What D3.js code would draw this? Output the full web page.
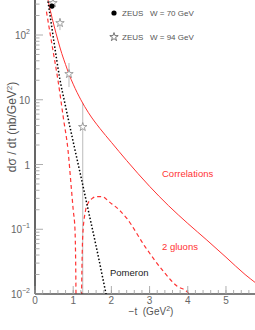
<html>
<head>
  <script src="https://d3js.org/d3.v7.min.js"></script>
  <style>
    body { margin: 0; background: #fff; }
    text { font-family: "Liberation Sans", Arial, sans-serif; white-space: pre; }
  </style>
</head>
<body>
  <div id="vis"></div>
  <script type="text/javascript">
    // curve samples, -t in GeV^2, dsigma/dt in nb/GeV^2
    var corrT   = [0.3, 0.4, 0.5, 0.6, 0.7, 0.8, 0.9, 1.0, 1.2, 1.4, 1.7, 2.0, 2.4, 3.0, 3.5, 4.0, 4.5, 5.0, 5.5, 5.8];
    var corrV   = [457, 240, 138, 83, 52, 35, 24, 17.4, 10, 6.3, 3.6, 2.2, 1.15, 0.46, 0.23, 0.123, 0.068, 0.037, 0.020, 0.0145];

    var pomT    = [0.3, 0.4, 0.5, 0.65, 0.8, 1.0, 1.2, 1.4, 1.6, 1.86, 1.9];
    var pomV    = [479, 190, 76, 21, 7.9, 2.24, 0.66, 0.19, 0.055, 0.01, 0.0077];

    var glu1T   = [0.3, 0.45, 0.6, 0.75, 0.864, 0.95, 1.0, 1.047, 1.07, 1.085];
    var glu1V   = [229, 68, 20.2, 4.9, 1.67, 0.44, 0.2, 0.098, 0.016, 0.001];
    var glu2T   = [1.2, 1.22, 1.25, 1.32, 1.40, 1.5, 1.62, 1.75, 1.96, 2.2, 2.4, 2.88, 3.4, 3.7, 4.0, 4.1];
    var glu2V   = [0.001, 0.011, 0.08, 0.19, 0.26, 0.3, 0.32, 0.32, 0.26, 0.2, 0.148, 0.054, 0.021, 0.0135, 0.0105, 0.0085];

    // ZEUS data
    var zeus70T  = [0.445];
    var zeus70V  = [280];
    var zeus70Lo = [255];
    var zeus70Hi = [305];
    var zeus94T  = [0.47, 0.654, 0.89, 1.25];
    var zeus94V  = [312, 153, 25, 3.8];
    var zeus94Lo = [290, 119, 15.7, 0.001];
    var zeus94Hi = [335, 183, 37, 8.9];

    var xTicks = [0, 1, 2, 3, 4, 5];
    var yTicks = [0.01, 0.1, 1, 10, 100];
    var yTickLabels = [['10', '\u22122'], ['10', '\u22121'], ['1', ''], ['10', ''], ['10', '2']];

    var W = 255, H = 330;
    var plotLeft = 35, plotBottom = 294, plotTop = 35;

    var x = d3.scaleLinear().domain([0, 5.76]).range([plotLeft, W]);
    var y = d3.scaleLog().domain([0.01, 100]).range([plotBottom, plotTop]);

    var svg = d3.select('#vis').append('svg')
                .attr('width', W).attr('height', H);

    svg.append('clipPath').attr('id', 'plot')
       .append('rect').attr('x', plotLeft).attr('y', -50).attr('width', W - plotLeft).attr('height', plotBottom + 50);

    var red = '#f33';
    var line = d3.line().x(function(d) { return x(d[0]); }).y(function(d) { return y(d[1]); }).curve(d3.curveMonotoneX);
    function pairs(t, v) { return t.map(function(tt, i) { return [tt, v[i]]; }); }

    var g = svg.append('g').attr('clip-path', 'url(#plot)');

    // error bars
    function errBars(t, lo, hi) {
      g.selectAll(null).data(t).enter().append('line')
        .attr('x1', function(d) { return x(d); }).attr('x2', function(d) { return x(d); })
        .attr('y1', function(d, i) { return y(lo[i]); }).attr('y2', function(d, i) { return y(hi[i]); })
        .style('stroke', '#bbb').style('stroke-width', 1);
    }
    errBars(zeus70T, zeus70Lo, zeus70Hi);
    errBars(zeus94T, zeus94Lo, zeus94Hi);

    g.append('path').attr('d', line(pairs(corrT, corrV)))
      .style('fill', 'none').style('stroke', red).style('stroke-width', 1);
    g.append('path').attr('d', line(pairs(glu1T, glu1V)))
      .style('fill', 'none').style('stroke', red).style('stroke-width', 1.2).style('stroke-dasharray', '4,3');
    g.append('path').attr('d', line(pairs(glu2T, glu2V)))
      .style('fill', 'none').style('stroke', red).style('stroke-width', 1.2).style('stroke-dasharray', '4,3');
    g.append('path').attr('d', line(pairs(pomT, pomV)))
      .style('fill', 'none').style('stroke', '#000').style('stroke-width', 1.5).style('stroke-dasharray', '1.5,2');

    var star = d3.symbol().type(d3.symbolStar).size(22);
    g.selectAll(null).data(zeus94T).enter().append('path')
      .attr('d', star)
      .attr('transform', function(d, i) { return 'translate(' + x(d) + ',' + y(zeus94V[i]) + ')'; })
      .style('fill', '#fff').style('stroke', '#888').style('stroke-width', 0.8);
    g.selectAll(null).data(zeus70T).enter().append('circle')
      .attr('r', 2.6)
      .attr('cx', function(d) { return x(d); })
      .attr('cy', function(d, i) { return y(zeus70V[i]); })
      .style('fill', '#000');

    // axes
    svg.append('line').attr('x1', plotLeft).attr('x2', plotLeft).attr('y1', 0).attr('y2', plotBottom)
      .style('stroke', '#000').style('stroke-width', 1.2);
    svg.append('line').attr('x1', plotLeft).attr('x2', W).attr('y1', plotBottom).attr('y2', plotBottom)
      .style('stroke', '#000').style('stroke-width', 1.2);

    // y ticks (inward), minor at 2..9
    var yMinor = [];
    yTicks.forEach(function(dec) {
      for (var k = 2; k <= 9; k++) yMinor.push(dec * k);
    });
    svg.selectAll(null).data(yMinor.filter(function(v) { return y(v) > 0; })).enter().append('line')
      .attr('x1', plotLeft).attr('x2', plotLeft + 4.5)
      .attr('y1', function(d) { return y(d); }).attr('y2', function(d) { return y(d); })
      .style('stroke', '#999').style('stroke-width', 0.8);
    svg.selectAll(null).data(yTicks).enter().append('line')
      .attr('x1', plotLeft).attr('x2', plotLeft + 8)
      .attr('y1', function(d) { return y(d); }).attr('y2', function(d) { return y(d); })
      .style('stroke', '#999').style('stroke-width', 0.8);

    var yl = svg.selectAll(null).data(yTicks).enter().append('text')
      .attr('x', plotLeft - 5).attr('y', function(d) { return y(d) + 4; })
      .attr('text-anchor', 'end').style('font-size', '10px').style('fill', '#666');
    yl.append('tspan').text(function(d, i) { return yTickLabels[i][0]; });
    yl.append('tspan').attr('dy', -5).style('font-size', '7px')
      .text(function(d, i) { return yTickLabels[i][1]; });

    // x ticks
    var xMinor = d3.range(0, 30).map(function(i) { return i * 0.2; }).filter(function(d) { return x(d) < W; });
    svg.selectAll(null).data(xMinor).enter().append('line')
      .attr('x1', function(d) { return x(d); }).attr('x2', function(d) { return x(d); })
      .attr('y1', plotBottom).attr('y2', plotBottom - 4)
      .style('stroke', '#999').style('stroke-width', 0.8);
    svg.selectAll(null).data(xTicks).enter().append('line')
      .attr('x1', function(d) { return x(d); }).attr('x2', function(d) { return x(d); })
      .attr('y1', plotBottom).attr('y2', plotBottom - 8)
      .style('stroke', '#999').style('stroke-width', 0.8);
    svg.selectAll(null).data(xTicks).enter().append('text')
      .attr('x', function(d) { return x(d); }).attr('y', plotBottom + 10)
      .attr('text-anchor', 'middle').style('font-size', '10px').style('fill', '#666')
      .text(function(d) { return d; });

    // axis titles
    var xt = svg.append('text').attr('x', 151).attr('y', 315).attr('text-anchor', 'middle')
      .style('font-size', '10px').style('fill', '#555');
    xt.append('tspan').text('\u2212t  (GeV');
    xt.append('tspan').attr('dy', -4).style('font-size', '7px').text('2');
    xt.append('tspan').attr('dy', 4).text(')');

    var yt = svg.append('text').attr('transform', 'translate(16,127) rotate(-90)').attr('text-anchor', 'middle')
      .style('font-size', '12px').style('fill', '#555');
    yt.append('tspan').text('d\u03c3 / dt (nb/GeV');
    yt.append('tspan').attr('dy', -4).style('font-size', '8px').text('2');
    yt.append('tspan').attr('dy', 4).text(')');

    // legend
    svg.append('circle').attr('cx', 114).attr('cy', 13).attr('r', 2.6).style('fill', '#000');
    svg.append('text').attr('x', 122).attr('y', 16).style('font-size', '8px').style('fill', '#555')
      .text('ZEUS   W = 70 GeV');
    svg.append('path').attr('d', star).attr('transform', 'translate(114,37)')
      .style('fill', '#fff').style('stroke', '#555').style('stroke-width', 0.8);
    svg.append('text').attr('x', 122).attr('y', 40).style('font-size', '8px').style('fill', '#555')
      .text('ZEUS   W = 94 GeV');

    // curve labels
    svg.append('text').attr('x', 162).attr('y', 177).style('font-size', '9.5px').style('fill', red).text('Correlations');
    svg.append('text').attr('x', 162).attr('y', 250).style('font-size', '9.5px').style('fill', red).text('2 gluons');
    svg.append('text').attr('x', 110).attr('y', 276).style('font-size', '9.5px').style('fill', '#222').text('Pomeron');
  </script>
</body>
</html>
